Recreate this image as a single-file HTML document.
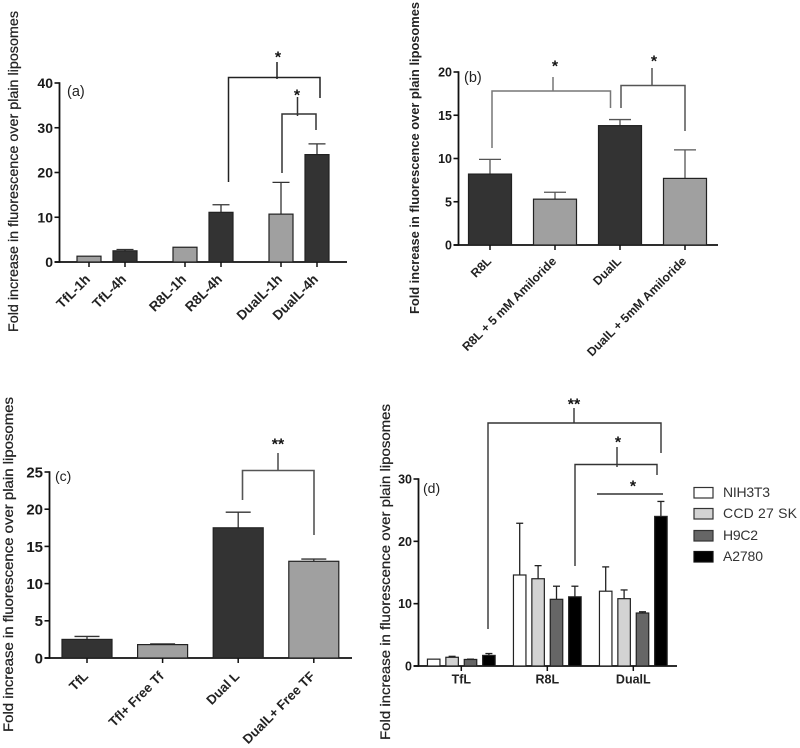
<!DOCTYPE html>
<html lang="en">
<head>
<meta charset="utf-8">
<title>Fold increase in fluorescence over plain liposomes</title>
<style>
html,body{margin:0;padding:0;background:#fff;}
svg{display:block;font-family:"Liberation Sans",Arial,sans-serif;filter:blur(0.35px);}
.t{stroke:#222;stroke-width:0.25px;}
</style>
</head>
<body>
<svg id="figure" xmlns="http://www.w3.org/2000/svg" width="800" height="748" viewBox="0 0 800 748">
  <rect width="800" height="748" fill="#fff"/>

  <g>
    <text class="t" transform="translate(18,332) rotate(-90)" font-size="14" fill="#222" textLength="321" lengthAdjust="spacingAndGlyphs">Fold increase in fluorescence over plain liposomes</text>
    <text x="67" y="96" font-size="14.5" fill="#222">(a)</text>
  </g>
  <g>
    <text transform="translate(419,314) rotate(-90)" font-size="13" font-weight="bold" fill="#222" textLength="312" lengthAdjust="spacingAndGlyphs">Fold increase in fluorescence over plain liposomes</text>
    <text x="464" y="82" font-size="14.5" fill="#222">(b)</text>
  </g>
  <g>
    <text class="t" transform="translate(13,732) rotate(-90)" font-size="14" fill="#222" textLength="335" lengthAdjust="spacingAndGlyphs">Fold increase in fluorescence over plain liposomes</text>
    <text x="55" y="481" font-size="14" fill="#222">(c)</text>
  </g>
  <g>
    <text class="t" transform="translate(390,740) rotate(-90)" font-size="14" fill="#222" textLength="336" lengthAdjust="spacingAndGlyphs">Fold increase in fluorescence over plain liposomes</text>
    <text x="423" y="493" font-size="14" fill="#222">(d)</text>
  </g>

  <g fill="none" stroke="#222" stroke-width="1.5">
    <path d="M228.500 182V77.500H320V98M277 79V62"/>
    <path stroke="#333" d="M282 173V114H316V130M297.500 116V97"/>
  </g>
  <text x="278" y="62.500" font-size="16" font-weight="bold" text-anchor="middle" fill="#111">*</text>
  <text x="297" y="100.500" font-size="16" font-weight="bold" text-anchor="middle" fill="#111">*</text>

  <g fill="none" stroke="#777" stroke-width="1.5">
    <path d="M492 148V91H610.500V108M553 91V77"/>
    <path stroke="#555" d="M621 108V85.500H685V131M652 85V68"/>
  </g>
  <text x="555" y="71.500" font-size="16" font-weight="bold" text-anchor="middle" fill="#111">*</text>
  <text x="654" y="66.500" font-size="16" font-weight="bold" text-anchor="middle" fill="#111">*</text>

  <path fill="none" stroke="#555" stroke-width="1.6" d="M242.500 500V470.500H314V535M278 470V453"/>
  <text x="278" y="449.500" font-size="16" font-weight="bold" text-anchor="middle" fill="#111">**</text>

  <g fill="none" stroke="#333" stroke-width="1.4">
    <path d="M488 629V423H661V453M574 423V408"/>
    <path d="M575 566V464.500H657V475M617 467V447"/>
    <path d="M597 494H663"/>
  </g>
  <text x="574" y="409.500" font-size="16" font-weight="bold" text-anchor="middle" fill="#111">**</text>
  <text x="618" y="447.500" font-size="16" font-weight="bold" text-anchor="middle" fill="#111">*</text>
  <text x="633" y="491.500" font-size="16" font-weight="bold" text-anchor="middle" fill="#111">*</text>

  <g font-size="14" fill="#333">
    <g><rect x="694" y="487.500" width="19" height="10.500" fill="#fff" stroke="#333" stroke-width="1.2"/><text x="723" y="497" textLength="47">NIH3T3</text></g>
    <g><rect x="694" y="508.500" width="19" height="10.500" fill="#d3d3d3" stroke="#333" stroke-width="1.2"/><text x="723" y="518" textLength="74">CCD 27 SK</text></g>
    <g><rect x="694" y="530.500" width="19" height="10.500" fill="#666" stroke="#333" stroke-width="1.2"/><text x="723" y="540" textLength="35">H9C2</text></g>
    <g><rect x="694" y="551.500" width="19" height="10.500" fill="#000" stroke="#111" stroke-width="1.2"/><text x="723" y="561" textLength="40">A2780</text></g>
  </g>

  <g id="marks"></g>
</svg>
<script>
// Panel (a)
const aCategories = ['TfL-1h', 'TfL-4h', 'R8L-1h', 'R8L-4h', 'DualL-1h', 'DualL-4h'];
const aValues = [1.3, 2.5, 3.3, 11.1, 10.7, 24];
const aErrorTops = [1.3, 2.8, 3.3, 12.8, 17.8, 26.4];
const aTicks = [0, 10, 20, 30, 40];
// Panel (b)
const bCategories = ['R8L', 'R8L + 5 mM Amiloride', 'DualL', 'DualL + 5mM Amiloride'];
const bValues = [8.2, 5.3, 13.8, 7.7];
const bErrorTops = [9.9, 6.1, 14.5, 11];
const bTicks = [0, 5, 10, 15, 20];
// Panel (c)
const cCategories = ['TfL', 'Tfl+ Free Tf', 'Dual L', 'DualL+ Free TF'];
const cValues = [2.5, 1.8, 17.5, 13];
const cErrorTops = [2.9, 1.9, 19.6, 13.3];
const cTicks = [0, 5, 10, 15, 20, 25];
// Panel (d)
const dGroups = ['TfL', 'R8L', 'DualL'];
const dSeriesNames = ['NIH3T3', 'CCD 27 SK', 'H9C2', 'A2780'];
const dNih3t3 = [1.1, 14.6, 12];
const dCcd27sk = [1.4, 14, 10.8];
const dH9c2 = [1.05, 10.7, 8.5];
const dA2780 = [1.7, 11.1, 24];
const dNih3t3Tops = [1.1, 22.9, 15.9];
const dCcd27skTops = [1.55, 16.1, 12.2];
const dH9c2Tops = [1.1, 12.8, 8.7];
const dA2780Tops = [2.0, 12.8, 26.4];
const dTicks = [0, 10, 20, 30];

const NS = 'http://www.w3.org/2000/svg';
const root = document.getElementById('marks');

function make(tag, attrs, parent, text) {
  const el = document.createElementNS(NS, tag);
  for (const k in attrs) el.setAttribute(k, attrs[k]);
  if (text !== undefined) el.textContent = text;
  parent.appendChild(el);
  return el;
}

function drawAxes(panel, o) {
  const yScale = v => o.y0 - (v / o.yMax) * (o.y0 - o.yTop);
  const g = make('g', {}, root);
  
  
  const yLine = make('line', {x1: o.ax, x2: o.ax, y1: o.yTop - 0.8, y2: o.y0 + 0.8, stroke: '#111', 'stroke-width': 1.8}, g);
  
  
  const xLine = make('line', {x1: o.ax - 5, x2: o.axEnd, y1: o.y0, y2: o.y0, stroke: '#111', 'stroke-width': 1.8}, g);
  
  
  o.ticks.forEach(t => {
    const tick = make('line', {x1: o.ax - 5, x2: o.ax, y1: yScale(t), y2: yScale(t), stroke: '#111', 'stroke-width': 1.6}, g);
    
    
    const label = make('text', {x: o.ax - 6.5, y: yScale(t) + o.tickFont * 0.36, 'text-anchor': 'end', 'font-size': o.tickFont, 'font-weight': 'bold', fill: '#1a1a1a'}, g, t);
    
    
  });
  return yScale;
}

function drawBar(panel, name, cx, w, capW, v, top, fill, yScale, y0, stemColor) {
  const g = make('g', {}, root);
  
  
  if (top > v) {
    const stem = make('line', {x1: cx, x2: cx, y1: yScale(top), y2: yScale(v), stroke: stemColor, 'stroke-width': 1.3}, g);
    
    
    const cap = make('line', {x1: cx - capW / 2, x2: cx + capW / 2, y1: yScale(top), y2: yScale(top), stroke: stemColor, 'stroke-width': 1.3}, g);
    
    
  }
  make('rect', {x: cx - w / 2, y: yScale(v), width: w, height: y0 - yScale(v), fill: fill, stroke: '#222', 'stroke-width': 1.2}, g);
}

function drawXTick(panel, name, cx, y0) {
  const tick = make('line', {x1: cx, x2: cx, y1: y0, y2: y0 + 5, stroke: '#111', 'stroke-width': 1.5}, root);
  
  
}

function drawRotatedLabel(panel, name, px, py, size, weight) {
  const label = make('text', {transform: 'translate(' + px + ',' + py + ') rotate(-45)', 'text-anchor': 'end', 'font-size': size, 'font-weight': weight, fill: '#222'}, root, name);
  
  
}

const DARK = '#333333';
const LIGHT = '#a0a0a0';

// Panel a
const aX = i => 89 + i * 36 + Math.floor(i / 2) * 24;
const aY = drawAxes('a', {ax: 59.5, axEnd: 347, y0: 262, yTop: 83, yMax: 40, ticks: aTicks, tickFont: 14});
aCategories.forEach((c, i) => {
  drawBar('a', c, aX(i), 24, 17, aValues[i], aErrorTops[i], i % 2 ? DARK : LIGHT, aY, 262, '#333');
  drawXTick('a', c, aX(i), 262);
  drawRotatedLabel('a', c, aX(i) + 2, 280, 13.5, 'bold');
});

// Panel b
const bX = i => 490 + i * 65;
const bY = drawAxes('b', {ax: 458.5, axEnd: 718, y0: 245, yTop: 72, yMax: 20, ticks: bTicks, tickFont: 12.5});
bCategories.forEach((c, i) => {
  drawBar('b', c, bX(i), 43, 22, bValues[i], bErrorTops[i], (i === 0 || i === 2) ? DARK : LIGHT, bY, 245, '#555');
  drawXTick('b', c, bX(i), 245);
  drawRotatedLabel('b', c, bX(i) + 2, 262, 12.2, 'bold');
});

// Panel c
const cX = i => 87 + i * 75.6;
const cY = drawAxes('c', {ax: 49.5, axEnd: 352, y0: 658, yTop: 472, yMax: 25, ticks: cTicks, tickFont: 15});
cCategories.forEach((c, i) => {
  drawBar('c', c, cX(i), 50, 25, cValues[i], cErrorTops[i], (i === 0 || i === 2) ? DARK : LIGHT, cY, 658, '#333');
  drawXTick('c', c, cX(i), 658);
  drawRotatedLabel('c', c, cX(i) + 2, 677, 13.2, 'bold');
});

// Panel d
const dSeries = [dNih3t3, dCcd27sk, dH9c2, dA2780];
const dTops = [dNih3t3Tops, dCcd27skTops, dH9c2Tops, dA2780Tops];
const dFills = ['#ffffff', '#d3d3d3', '#666666', '#000000'];
const dX = (g, s) => 433.700 + g * 86 + s * 18.400;
const dY = drawAxes('d', {ax: 418.5, axEnd: 677, y0: 666, yTop: 479, yMax: 30, ticks: dTicks, tickFont: 12.5});
dGroups.forEach((group, g) => {
  dSeriesNames.forEach((s, i) => {
    drawBar('d', group + '-' + s, dX(g, i), 12.5, 7, dSeries[i][g], dTops[i][g], dFills[i], dY, 666, '#222');
  });
  const cx = (dX(g, 1) + dX(g, 2)) / 2;
  drawXTick('d', group, cx, 666);
  const label = make('text', {x: cx, y: 683.5, 'text-anchor': 'middle', 'font-size': 12.5, 'font-weight': 'bold', fill: '#222'}, root, group);
  
  
});
</script>
</body>
</html>
